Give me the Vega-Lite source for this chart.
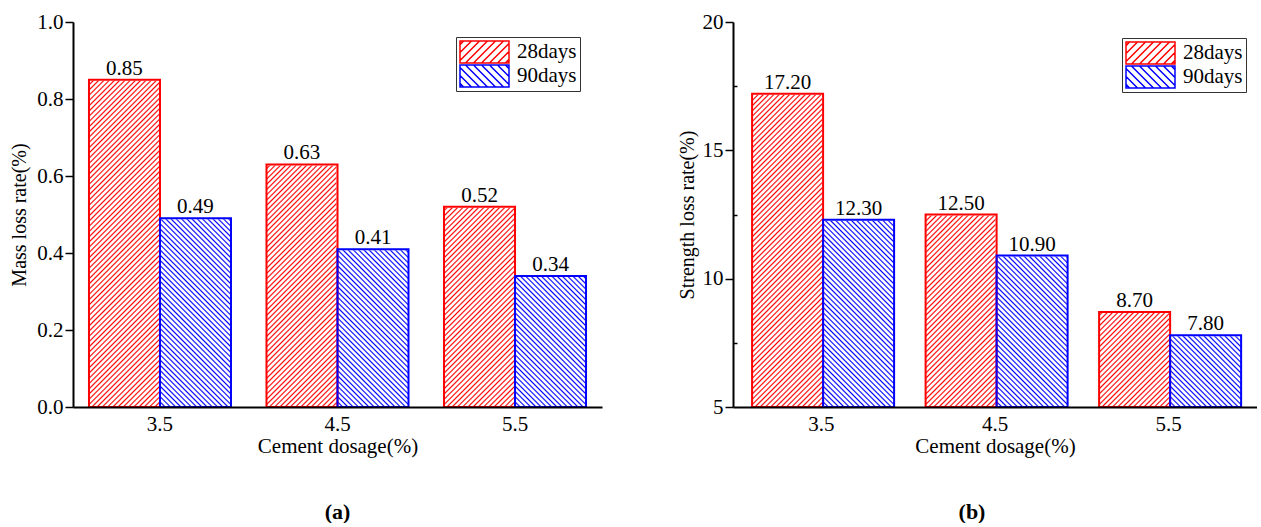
{
  "$schema": "https://vega.github.io/schema/vega-lite/v6.json",
  "padding": {"left": 9, "top": 11, "right": 0, "bottom": 0},
  "background": "white",
  "params": [
    {"name": "hs", "value": [
      {"offset":0,"color":"rgba(255,255,255,0)"},{"offset":0.003,"color":"#fff"},{"offset":0.007,"color":"#fff"},
      {"offset":0.01,"color":"rgba(255,255,255,0)"},{"offset":0.013,"color":"#fff"},{"offset":0.017,"color":"#fff"},
      {"offset":0.02,"color":"rgba(255,255,255,0)"},{"offset":0.023,"color":"#fff"},{"offset":0.027,"color":"#fff"},
      {"offset":0.03,"color":"rgba(255,255,255,0)"},{"offset":0.033,"color":"#fff"},{"offset":0.037,"color":"#fff"},
      {"offset":0.04,"color":"rgba(255,255,255,0)"},{"offset":0.043,"color":"#fff"},{"offset":0.047,"color":"#fff"},
      {"offset":0.05,"color":"rgba(255,255,255,0)"},{"offset":0.053,"color":"#fff"},{"offset":0.057,"color":"#fff"},
      {"offset":0.06,"color":"rgba(255,255,255,0)"},{"offset":0.063,"color":"#fff"},{"offset":0.067,"color":"#fff"},
      {"offset":0.07,"color":"rgba(255,255,255,0)"},{"offset":0.073,"color":"#fff"},{"offset":0.077,"color":"#fff"},
      {"offset":0.08,"color":"rgba(255,255,255,0)"},{"offset":0.083,"color":"#fff"},{"offset":0.087,"color":"#fff"},
      {"offset":0.09,"color":"rgba(255,255,255,0)"},{"offset":0.093,"color":"#fff"},{"offset":0.097,"color":"#fff"},
      {"offset":0.1,"color":"rgba(255,255,255,0)"},{"offset":0.103,"color":"#fff"},{"offset":0.107,"color":"#fff"},
      {"offset":0.11,"color":"rgba(255,255,255,0)"},{"offset":0.113,"color":"#fff"},{"offset":0.117,"color":"#fff"},
      {"offset":0.12,"color":"rgba(255,255,255,0)"},{"offset":0.123,"color":"#fff"},{"offset":0.127,"color":"#fff"},
      {"offset":0.13,"color":"rgba(255,255,255,0)"},{"offset":0.133,"color":"#fff"},{"offset":0.137,"color":"#fff"},
      {"offset":0.14,"color":"rgba(255,255,255,0)"},{"offset":0.143,"color":"#fff"},{"offset":0.147,"color":"#fff"},
      {"offset":0.15,"color":"rgba(255,255,255,0)"},{"offset":0.153,"color":"#fff"},{"offset":0.157,"color":"#fff"},
      {"offset":0.16,"color":"rgba(255,255,255,0)"},{"offset":0.163,"color":"#fff"},{"offset":0.167,"color":"#fff"},
      {"offset":0.17,"color":"rgba(255,255,255,0)"},{"offset":0.173,"color":"#fff"},{"offset":0.177,"color":"#fff"},
      {"offset":0.18,"color":"rgba(255,255,255,0)"},{"offset":0.183,"color":"#fff"},{"offset":0.187,"color":"#fff"},
      {"offset":0.19,"color":"rgba(255,255,255,0)"},{"offset":0.193,"color":"#fff"},{"offset":0.197,"color":"#fff"},
      {"offset":0.2,"color":"rgba(255,255,255,0)"},{"offset":0.203,"color":"#fff"},{"offset":0.207,"color":"#fff"},
      {"offset":0.21,"color":"rgba(255,255,255,0)"},{"offset":0.213,"color":"#fff"},{"offset":0.217,"color":"#fff"},
      {"offset":0.22,"color":"rgba(255,255,255,0)"},{"offset":0.223,"color":"#fff"},{"offset":0.227,"color":"#fff"},
      {"offset":0.23,"color":"rgba(255,255,255,0)"},{"offset":0.233,"color":"#fff"},{"offset":0.237,"color":"#fff"},
      {"offset":0.24,"color":"rgba(255,255,255,0)"},{"offset":0.243,"color":"#fff"},{"offset":0.247,"color":"#fff"},
      {"offset":0.25,"color":"rgba(255,255,255,0)"},{"offset":0.253,"color":"#fff"},{"offset":0.257,"color":"#fff"},
      {"offset":0.26,"color":"rgba(255,255,255,0)"},{"offset":0.263,"color":"#fff"},{"offset":0.267,"color":"#fff"},
      {"offset":0.27,"color":"rgba(255,255,255,0)"},{"offset":0.273,"color":"#fff"},{"offset":0.277,"color":"#fff"},
      {"offset":0.28,"color":"rgba(255,255,255,0)"},{"offset":0.283,"color":"#fff"},{"offset":0.287,"color":"#fff"},
      {"offset":0.29,"color":"rgba(255,255,255,0)"},{"offset":0.293,"color":"#fff"},{"offset":0.297,"color":"#fff"},
      {"offset":0.3,"color":"rgba(255,255,255,0)"},{"offset":0.303,"color":"#fff"},{"offset":0.307,"color":"#fff"},
      {"offset":0.31,"color":"rgba(255,255,255,0)"},{"offset":0.313,"color":"#fff"},{"offset":0.317,"color":"#fff"},
      {"offset":0.32,"color":"rgba(255,255,255,0)"},{"offset":0.323,"color":"#fff"},{"offset":0.327,"color":"#fff"},
      {"offset":0.33,"color":"rgba(255,255,255,0)"},{"offset":0.333,"color":"#fff"},{"offset":0.337,"color":"#fff"},
      {"offset":0.34,"color":"rgba(255,255,255,0)"},{"offset":0.343,"color":"#fff"},{"offset":0.347,"color":"#fff"},
      {"offset":0.35,"color":"rgba(255,255,255,0)"},{"offset":0.353,"color":"#fff"},{"offset":0.357,"color":"#fff"},
      {"offset":0.36,"color":"rgba(255,255,255,0)"},{"offset":0.363,"color":"#fff"},{"offset":0.367,"color":"#fff"},
      {"offset":0.37,"color":"rgba(255,255,255,0)"},{"offset":0.373,"color":"#fff"},{"offset":0.377,"color":"#fff"},
      {"offset":0.38,"color":"rgba(255,255,255,0)"},{"offset":0.383,"color":"#fff"},{"offset":0.387,"color":"#fff"},
      {"offset":0.39,"color":"rgba(255,255,255,0)"},{"offset":0.393,"color":"#fff"},{"offset":0.397,"color":"#fff"},
      {"offset":0.4,"color":"rgba(255,255,255,0)"},{"offset":0.403,"color":"#fff"},{"offset":0.407,"color":"#fff"},
      {"offset":0.41,"color":"rgba(255,255,255,0)"},{"offset":0.413,"color":"#fff"},{"offset":0.417,"color":"#fff"},
      {"offset":0.42,"color":"rgba(255,255,255,0)"},{"offset":0.423,"color":"#fff"},{"offset":0.427,"color":"#fff"},
      {"offset":0.43,"color":"rgba(255,255,255,0)"},{"offset":0.433,"color":"#fff"},{"offset":0.437,"color":"#fff"},
      {"offset":0.44,"color":"rgba(255,255,255,0)"},{"offset":0.443,"color":"#fff"},{"offset":0.447,"color":"#fff"},
      {"offset":0.45,"color":"rgba(255,255,255,0)"},{"offset":0.453,"color":"#fff"},{"offset":0.457,"color":"#fff"},
      {"offset":0.46,"color":"rgba(255,255,255,0)"},{"offset":0.463,"color":"#fff"},{"offset":0.467,"color":"#fff"},
      {"offset":0.47,"color":"rgba(255,255,255,0)"},{"offset":0.473,"color":"#fff"},{"offset":0.477,"color":"#fff"},
      {"offset":0.48,"color":"rgba(255,255,255,0)"},{"offset":0.483,"color":"#fff"},{"offset":0.487,"color":"#fff"},
      {"offset":0.49,"color":"rgba(255,255,255,0)"},{"offset":0.493,"color":"#fff"},{"offset":0.497,"color":"#fff"},
      {"offset":0.5,"color":"rgba(255,255,255,0)"},{"offset":0.503,"color":"#fff"},{"offset":0.507,"color":"#fff"},
      {"offset":0.51,"color":"rgba(255,255,255,0)"},{"offset":0.513,"color":"#fff"},{"offset":0.517,"color":"#fff"},
      {"offset":0.52,"color":"rgba(255,255,255,0)"},{"offset":0.523,"color":"#fff"},{"offset":0.527,"color":"#fff"},
      {"offset":0.53,"color":"rgba(255,255,255,0)"},{"offset":0.533,"color":"#fff"},{"offset":0.537,"color":"#fff"},
      {"offset":0.54,"color":"rgba(255,255,255,0)"},{"offset":0.543,"color":"#fff"},{"offset":0.547,"color":"#fff"},
      {"offset":0.55,"color":"rgba(255,255,255,0)"},{"offset":0.553,"color":"#fff"},{"offset":0.557,"color":"#fff"},
      {"offset":0.56,"color":"rgba(255,255,255,0)"},{"offset":0.563,"color":"#fff"},{"offset":0.567,"color":"#fff"},
      {"offset":0.57,"color":"rgba(255,255,255,0)"},{"offset":0.573,"color":"#fff"},{"offset":0.577,"color":"#fff"},
      {"offset":0.58,"color":"rgba(255,255,255,0)"},{"offset":0.583,"color":"#fff"},{"offset":0.587,"color":"#fff"},
      {"offset":0.59,"color":"rgba(255,255,255,0)"},{"offset":0.593,"color":"#fff"},{"offset":0.597,"color":"#fff"},
      {"offset":0.6,"color":"rgba(255,255,255,0)"},{"offset":0.603,"color":"#fff"},{"offset":0.607,"color":"#fff"},
      {"offset":0.61,"color":"rgba(255,255,255,0)"},{"offset":0.613,"color":"#fff"},{"offset":0.617,"color":"#fff"},
      {"offset":0.62,"color":"rgba(255,255,255,0)"},{"offset":0.623,"color":"#fff"},{"offset":0.627,"color":"#fff"},
      {"offset":0.63,"color":"rgba(255,255,255,0)"},{"offset":0.633,"color":"#fff"},{"offset":0.637,"color":"#fff"},
      {"offset":0.64,"color":"rgba(255,255,255,0)"},{"offset":0.643,"color":"#fff"},{"offset":0.647,"color":"#fff"},
      {"offset":0.65,"color":"rgba(255,255,255,0)"},{"offset":0.653,"color":"#fff"},{"offset":0.657,"color":"#fff"},
      {"offset":0.66,"color":"rgba(255,255,255,0)"},{"offset":0.663,"color":"#fff"},{"offset":0.667,"color":"#fff"},
      {"offset":0.67,"color":"rgba(255,255,255,0)"},{"offset":0.673,"color":"#fff"},{"offset":0.677,"color":"#fff"},
      {"offset":0.68,"color":"rgba(255,255,255,0)"},{"offset":0.683,"color":"#fff"},{"offset":0.687,"color":"#fff"},
      {"offset":0.69,"color":"rgba(255,255,255,0)"},{"offset":0.693,"color":"#fff"},{"offset":0.697,"color":"#fff"},
      {"offset":0.7,"color":"rgba(255,255,255,0)"},{"offset":0.703,"color":"#fff"},{"offset":0.707,"color":"#fff"},
      {"offset":0.71,"color":"rgba(255,255,255,0)"},{"offset":0.713,"color":"#fff"},{"offset":0.717,"color":"#fff"},
      {"offset":0.72,"color":"rgba(255,255,255,0)"},{"offset":0.723,"color":"#fff"},{"offset":0.727,"color":"#fff"},
      {"offset":0.73,"color":"rgba(255,255,255,0)"},{"offset":0.733,"color":"#fff"},{"offset":0.737,"color":"#fff"},
      {"offset":0.74,"color":"rgba(255,255,255,0)"},{"offset":0.743,"color":"#fff"},{"offset":0.747,"color":"#fff"},
      {"offset":0.75,"color":"rgba(255,255,255,0)"},{"offset":0.753,"color":"#fff"},{"offset":0.757,"color":"#fff"},
      {"offset":0.76,"color":"rgba(255,255,255,0)"},{"offset":0.763,"color":"#fff"},{"offset":0.767,"color":"#fff"},
      {"offset":0.77,"color":"rgba(255,255,255,0)"},{"offset":0.773,"color":"#fff"},{"offset":0.777,"color":"#fff"},
      {"offset":0.78,"color":"rgba(255,255,255,0)"},{"offset":0.783,"color":"#fff"},{"offset":0.787,"color":"#fff"},
      {"offset":0.79,"color":"rgba(255,255,255,0)"},{"offset":0.793,"color":"#fff"},{"offset":0.797,"color":"#fff"},
      {"offset":0.8,"color":"rgba(255,255,255,0)"},{"offset":0.803,"color":"#fff"},{"offset":0.807,"color":"#fff"},
      {"offset":0.81,"color":"rgba(255,255,255,0)"},{"offset":0.813,"color":"#fff"},{"offset":0.817,"color":"#fff"},
      {"offset":0.82,"color":"rgba(255,255,255,0)"},{"offset":0.823,"color":"#fff"},{"offset":0.827,"color":"#fff"},
      {"offset":0.83,"color":"rgba(255,255,255,0)"},{"offset":0.833,"color":"#fff"},{"offset":0.837,"color":"#fff"},
      {"offset":0.84,"color":"rgba(255,255,255,0)"},{"offset":0.843,"color":"#fff"},{"offset":0.847,"color":"#fff"},
      {"offset":0.85,"color":"rgba(255,255,255,0)"},{"offset":0.853,"color":"#fff"},{"offset":0.857,"color":"#fff"},
      {"offset":0.86,"color":"rgba(255,255,255,0)"},{"offset":0.863,"color":"#fff"},{"offset":0.867,"color":"#fff"},
      {"offset":0.87,"color":"rgba(255,255,255,0)"},{"offset":0.873,"color":"#fff"},{"offset":0.877,"color":"#fff"},
      {"offset":0.88,"color":"rgba(255,255,255,0)"},{"offset":0.883,"color":"#fff"},{"offset":1,"color":"#fff"}
    ]},
    {"name": "hatchFwd", "expr": "{gradient: 'linear', x1: 0, y1: 0, x2: 0.2428, y2: 1.3166, stops: hs}"},
    {"name": "hatchBack", "expr": "{gradient: 'linear', x1: 0, y1: 1, x2: 0.2428, y2: -0.3166, stops: hs}"}
  ],
  "datasets": {
    "mass": [
      {"dosage": "3.5", "series": "28days", "value": 0.85},
      {"dosage": "3.5", "series": "90days", "value": 0.49},
      {"dosage": "4.5", "series": "28days", "value": 0.63},
      {"dosage": "4.5", "series": "90days", "value": 0.41},
      {"dosage": "5.5", "series": "28days", "value": 0.52},
      {"dosage": "5.5", "series": "90days", "value": 0.34}
    ],
    "strength": [
      {"dosage": "3.5", "series": "28days", "value": 17.2},
      {"dosage": "3.5", "series": "90days", "value": 12.3},
      {"dosage": "4.5", "series": "28days", "value": 12.5},
      {"dosage": "4.5", "series": "90days", "value": 10.9},
      {"dosage": "5.5", "series": "28days", "value": 8.7},
      {"dosage": "5.5", "series": "90days", "value": 7.8}
    ]
  },
  "spacing": 75,
  "resolve": {
    "scale": {"stroke": "independent", "shape": "independent"},
    "legend": {"stroke": "independent", "shape": "independent"}
  },
  "hconcat": [
    {
      "width": 529,
      "height": 385,
      "data": {"name": "mass"},
      "title": {"text": "(a)", "orient": "bottom", "anchor": "middle", "offset": 46},
      "encoding": {
        "x": {
          "field": "dosage", "type": "nominal",
          "scale": {"paddingInner": 0.2, "paddingOuter": 0.09},
          "axis": {"title": "Cement dosage(%)", "labelAngle": 0, "ticks": false, "labelPadding": 6, "titlePadding": 1, "zindex": 1}
        },
        "xOffset": {"field": "series", "type": "nominal", "scale": {"paddingInner": 0, "paddingOuter": 0}}
      },
      "layer": [
        {
          "mark": {"type": "bar"},
          "encoding": {
            "y": {
              "datum": 1, "type": "quantitative",
              "scale": {"domain": [0, 1], "nice": false, "zero": false},
              "axis": {
                "title": "Mass loss rate(%)",
                "values": [0, 0.1, 0.2, 0.3, 0.4, 0.5, 0.6, 0.7, 0.8, 0.9, 1],
                "labelExpr": "round(datum.value * 10) % 2 == 1 ? '' : format(datum.value, '.1f')",
                "tickSize": {"condition": {"test": "round(datum.value * 10) % 2 == 1", "value": -4}, "value": 8},
                "labelPadding": 2, "titlePadding": 7, "titleFontSize": 20, "zindex": 1
              }
            },
            "y2": {"datum": 0},
            "fill": {"field": "series", "type": "nominal", "legend": null, "scale": {"domain": ["28days", "90days"], "range": ["#ff0000", "#0000ff"]}}
          }
        },
        {
          "mark": {"type": "bar"},
          "encoding": {
            "y": {"datum": 1, "type": "quantitative"},
            "y2": {"datum": 0},
            "fill": {"value": {"expr": "datum.series === '28days' ? hatchFwd : hatchBack"}}
          }
        },
        {
          "mark": {"type": "point", "filled": false, "size": 0, "strokeWidth": 1.5, "opacity": 1},
          "encoding": {
            "y": {"datum": 0, "type": "quantitative"},
            "stroke": {
              "field": "series", "type": "nominal",
              "scale": {"domain": ["28days", "90days"], "range": ["#ff0000", "#0000ff"]},
              "legend": {
                "orient": "none", "legendX": 383, "legendY": 15, "title": null,
                "symbolSize": 484, "symbolStrokeWidth": 1.5, "symbolOffset": 13.5, "clipHeight": 24,
                "labelFont": "Liberation Serif", "labelFontSize": 21, "labelColor": "black", "labelOffset": 20.5,
                "strokeColor": "#333", "fillColor": "white", "padding": 3, "rowPadding": 0
              }
            },
            "shape": {
              "field": "series", "type": "nominal",
              "scale": {
                "domain": ["28days", "90days"],
                "range": [
                  "M-2.227,-1H2.227V1H-2.227ZM-2.227,-0.673L-1.9,-1M-2.227,0.047L-1.18,-1M-2.227,0.777L-0.45,-1M-1.73,1L0.27,-1M-1,1L1,-1M-0.27,1L1.73,-1M0.45,1L2.227,-0.777M1.18,1L2.227,-0.047M1.9,1L2.227,0.673",
                  "M-2.227,-1H2.227V1H-2.227ZM2.227,-0.673L1.9,-1M2.227,0.047L1.18,-1M2.227,0.777L0.45,-1M1.73,1L-0.27,-1M1,1L-1,-1M0.27,1L-1.73,-1M-0.45,1L-2.227,-0.777M-1.18,1L-2.227,-0.047M-1.9,1L-2.227,0.673"
                ]
              },
              "legend": {
                "orient": "none", "legendX": 383, "legendY": 15, "title": null,
                "symbolSize": 484, "symbolStrokeWidth": 1.5, "symbolOffset": 13.5, "clipHeight": 24,
                "labelFont": "Liberation Serif", "labelFontSize": 21, "labelColor": "black", "labelOffset": 20.5,
                "strokeColor": "#333", "fillColor": "white", "padding": 3, "rowPadding": 0
              }
            }
          }
        },
        {
          "mark": {"type": "bar", "fill": "white", "stroke": "white", "strokeWidth": 2},
          "encoding": {
            "y": {"field": "value", "type": "quantitative"},
            "y2": {"datum": 1}
          }
        },
        {
          "mark": {"type": "bar", "filled": false, "strokeWidth": 2},
          "encoding": {
            "y": {"field": "value", "type": "quantitative"},
            "y2": {"datum": 0},
            "stroke": {"condition": {"test": "datum.series === '28days'", "value": "#ff0000"}, "value": "#0000ff"}
          }
        },
        {
          "mark": {"type": "text", "baseline": "alphabetic", "dy": -5, "font": "Liberation Serif", "fontSize": 21, "color": "black"},
          "encoding": {
            "y": {"field": "value", "type": "quantitative"},
            "text": {"field": "value", "type": "quantitative", "format": ".2f"}
          }
        }
      ]
    },
    {
      "width": 524,
      "height": 385,
      "data": {"name": "strength"},
      "title": {"text": "(b)", "orient": "bottom", "anchor": "middle", "offset": 46, "dx": -23},
      "encoding": {
        "x": {
          "field": "dosage", "type": "nominal",
          "scale": {"paddingInner": 0.2, "paddingOuter": 0.11},
          "axis": {"title": "Cement dosage(%)", "labelAngle": 0, "ticks": false, "labelPadding": 6, "titlePadding": 1, "zindex": 1}
        },
        "xOffset": {"field": "series", "type": "nominal", "scale": {"paddingInner": 0, "paddingOuter": 0}}
      },
      "layer": [
        {
          "mark": {"type": "bar"},
          "encoding": {
            "y": {
              "datum": 20, "type": "quantitative",
              "scale": {"domain": [5, 20], "nice": false, "zero": false},
              "axis": {
                "title": "Strength loss rate(%)",
                "values": [5, 7.5, 10, 12.5, 15, 17.5, 20],
                "labelExpr": "datum.value % 5 != 0 ? '' : format(datum.value, 'd')",
                "tickSize": {"condition": {"test": "datum.value % 5 != 0", "value": -4}, "value": 8},
                "labelPadding": 2, "titlePadding": 5, "titleFontSize": 20, "zindex": 1
              }
            },
            "y2": {"datum": 5},
            "fill": {"field": "series", "type": "nominal", "legend": null, "scale": {"domain": ["28days", "90days"], "range": ["#ff0000", "#0000ff"]}}
          }
        },
        {
          "mark": {"type": "bar"},
          "encoding": {
            "y": {"datum": 20, "type": "quantitative"},
            "y2": {"datum": 5},
            "fill": {"value": {"expr": "datum.series === '28days' ? hatchFwd : hatchBack"}}
          }
        },
        {
          "mark": {"type": "point", "filled": false, "size": 0, "strokeWidth": 1.5, "opacity": 1},
          "encoding": {
            "y": {"datum": 5, "type": "quantitative"},
            "stroke": {
              "field": "series", "type": "nominal",
              "scale": {"domain": ["28days", "90days"], "range": ["#ff0000", "#0000ff"]},
              "legend": {
                "orient": "none", "legendX": 389, "legendY": 16, "title": null,
                "symbolSize": 484, "symbolStrokeWidth": 1.5, "symbolOffset": 13.5, "clipHeight": 24,
                "labelFont": "Liberation Serif", "labelFontSize": 21, "labelColor": "black", "labelOffset": 20.5,
                "strokeColor": "#333", "fillColor": "white", "padding": 3, "rowPadding": 0
              }
            },
            "shape": {
              "field": "series", "type": "nominal",
              "scale": {
                "domain": ["28days", "90days"],
                "range": [
                  "M-2.227,-1H2.227V1H-2.227ZM-2.227,-0.673L-1.9,-1M-2.227,0.047L-1.18,-1M-2.227,0.777L-0.45,-1M-1.73,1L0.27,-1M-1,1L1,-1M-0.27,1L1.73,-1M0.45,1L2.227,-0.777M1.18,1L2.227,-0.047M1.9,1L2.227,0.673",
                  "M-2.227,-1H2.227V1H-2.227ZM2.227,-0.673L1.9,-1M2.227,0.047L1.18,-1M2.227,0.777L0.45,-1M1.73,1L-0.27,-1M1,1L-1,-1M0.27,1L-1.73,-1M-0.45,1L-2.227,-0.777M-1.18,1L-2.227,-0.047M-1.9,1L-2.227,0.673"
                ]
              },
              "legend": {
                "orient": "none", "legendX": 389, "legendY": 16, "title": null,
                "symbolSize": 484, "symbolStrokeWidth": 1.5, "symbolOffset": 13.5, "clipHeight": 24,
                "labelFont": "Liberation Serif", "labelFontSize": 21, "labelColor": "black", "labelOffset": 20.5,
                "strokeColor": "#333", "fillColor": "white", "padding": 3, "rowPadding": 0
              }
            }
          }
        },
        {
          "mark": {"type": "bar", "fill": "white", "stroke": "white", "strokeWidth": 2},
          "encoding": {
            "y": {"field": "value", "type": "quantitative"},
            "y2": {"datum": 20}
          }
        },
        {
          "mark": {"type": "bar", "filled": false, "strokeWidth": 2},
          "encoding": {
            "y": {"field": "value", "type": "quantitative"},
            "y2": {"datum": 5},
            "stroke": {"condition": {"test": "datum.series === '28days'", "value": "#ff0000"}, "value": "#0000ff"}
          }
        },
        {
          "mark": {"type": "text", "baseline": "alphabetic", "dy": -5, "font": "Liberation Serif", "fontSize": 21, "color": "black"},
          "encoding": {
            "y": {"field": "value", "type": "quantitative"},
            "text": {"field": "value", "type": "quantitative", "format": ".2f"}
          }
        }
      ]
    }
  ],
  "config": {
    "view": {"stroke": null},
    "font": "Liberation Serif",
    "axis": {
      "domainColor": "black", "domainWidth": 2, "tickColor": "black", "tickWidth": 1.5,
      "labelFont": "Liberation Serif", "labelFontSize": 21, "labelColor": "black",
      "titleFont": "Liberation Serif", "titleFontSize": 21, "titleFontWeight": "normal", "titleColor": "black",
      "grid": false
    },
    "title": {"font": "Liberation Serif", "fontSize": 22, "fontWeight": "bold", "color": "black"}
  }
}
